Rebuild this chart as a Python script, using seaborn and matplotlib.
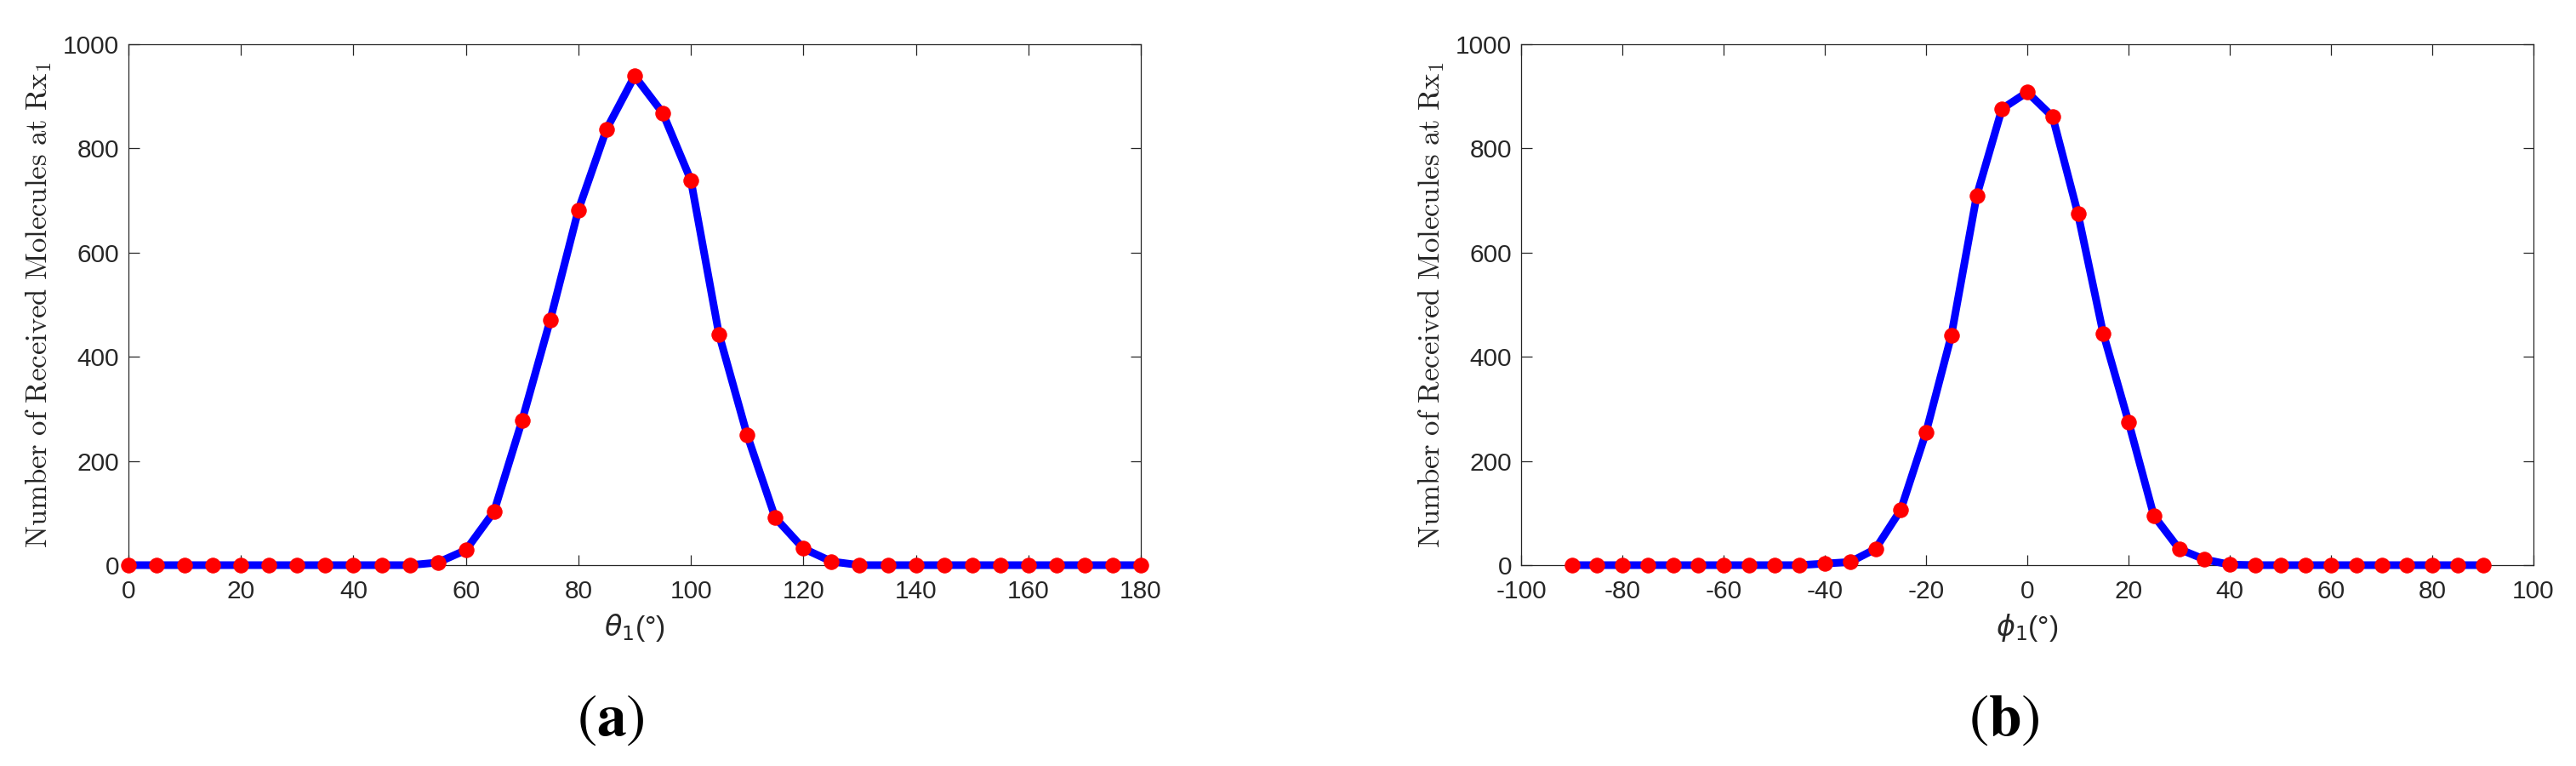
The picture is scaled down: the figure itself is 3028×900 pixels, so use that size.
import numpy as np
import pandas as pd
import matplotlib
matplotlib.use("Agg")
import matplotlib.pyplot as plt
import seaborn as sns

# Angles (degrees) and received molecule counts
theta = [0, 5, 10, 15, 20, 25, 30, 35, 40, 45, 50, 55, 60, 65, 70, 75, 80, 85, 90,
         95, 100, 105, 110, 115, 120, 125, 130, 135, 140, 145, 150, 155, 160, 165,
         170, 175, 180]
theta_counts = [0, 0, 0, 0, 0, 0, 0, 0, 0, 0, 0, 5, 29, 103, 278, 471, 682, 837, 939,
                868, 739, 443, 250, 91, 32, 7, 0, 0, 0, 0, 0, 0, 0, 0, 0, 0, 0]

phi = [-90, -85, -80, -75, -70, -65, -60, -55, -50, -45, -40, -35, -30, -25, -20, -15,
       -10, -5, 0, 5, 10, 15, 20, 25, 30, 35, 40, 45, 50, 55, 60, 65, 70, 75, 80, 85, 90]
phi_counts = [0, 0, 0, 0, 0, 0, 0, 0, 0, 0, 3, 6, 31, 106, 255, 441, 709, 876, 908,
              861, 675, 445, 275, 95, 31, 11, 1, 0, 0, 0, 0, 0, 0, 0, 0, 0, 0]

theta_ticks = [0, 20, 40, 60, 80, 100, 120, 140, 160, 180]
phi_ticks = [-100, -80, -60, -40, -20, 0, 20, 40, 60, 80, 100]
y_ticks = [0, 200, 400, 600, 800, 1000]

ylabel = r"$\mathrm{Number\ of\ Received\ Molecules\ at\ Rx}_1$"

sns.set_style("ticks")
plt.rcParams['font.family'] = ['Liberation Sans', 'DejaVu Sans']
plt.rcParams['xtick.direction'] = 'in'
plt.rcParams['ytick.direction'] = 'in'
plt.rcParams['xtick.top'] = True
plt.rcParams['ytick.right'] = True
dark = '#262626'

fig = plt.figure(figsize=(30.28, 9), dpi=100)
ax1 = fig.add_axes([151 / 3028, 236 / 900, 1190 / 3028, 612 / 900])
ax2 = fig.add_axes([1788 / 3028, 236 / 900, 1190 / 3028, 612 / 900])

df1 = pd.DataFrame({'angle': theta, 'count': theta_counts})
df2 = pd.DataFrame({'angle': phi, 'count': phi_counts})

panels = [
    (ax1, df1, (0, 180), theta_ticks, r"$\theta_1$(°)", "a", 718),
    (ax2, df2, (-100, 100), phi_ticks, r"$\phi_1$(°)", "b", 2356),
]

for ax, df, xlim, xt, xlab, tag, tag_x in panels:
    sns.lineplot(data=df, x='angle', y='count', ax=ax, color='blue', linewidth=6.5,
                 marker='o', markersize=12.5, markerfacecolor='red',
                 markeredgecolor='red', clip_on=False, zorder=3)
    ax.set_xlim(*xlim)
    ax.set_ylim(0, 1000)
    ax.set_xticks(xt)
    ax.set_yticks(y_ticks)
    ax.set_xticklabels([str(v) for v in xt])
    ax.tick_params(axis='both', labelsize=21.5, colors=dark, length=9, width=0.9)
    ax.tick_params(axis='x', pad=12)
    ax.tick_params(axis='y', pad=8)
    for s in ax.spines.values():
        s.set_color(dark)
        s.set_linewidth(0.9)
        s.set_visible(True)
    ax.set_xlabel(xlab, fontsize=24, color=dark, math_fontfamily='dejavusans')
    ax.xaxis.set_label_coords(0.5, -0.09)
    ax.set_ylabel(ylabel, fontsize=25, color=dark, math_fontfamily='cm')
    ax.yaxis.set_label_coords(-0.074, 0.5)
    fig.text(tag_x / 3028, 1 - 846 / 900, r"$(\mathbf{" + tag + "})$", fontsize=50,
             ha='center', va='center', color='black', math_fontfamily='stix')

fig.savefig("out.png", dpi=100, facecolor='white')
